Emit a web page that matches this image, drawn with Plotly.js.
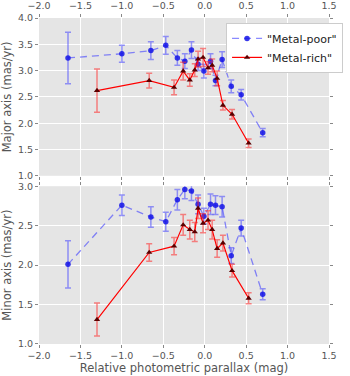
<!DOCTYPE html>
<html>
<head>
<meta charset="utf-8">
<script src="https://cdn.plot.ly/plotly-3.0.1.min.js"></script>
<style>
  body { margin: 0; background: #fff; }
  #chart { width: 350px; height: 376px; }
</style>
</head>
<body>
<div id="chart"></div>
<script>
// Metal-poor sample (blue, dashed)
const poorX = [-1.65, -1.0, -0.65, -0.47, -0.33, -0.24, -0.16, -0.08, -0.01, 0.07, 0.13, 0.21, 0.32, 0.44, 0.70];
const poorMajor = [3.24, 3.32, 3.38, 3.48, 3.24, 3.18, 3.39, 3.12, 2.99, 3.18, 2.81, 3.21, 2.70, 2.54, 1.82];
const poorMajorErr = [0.49, 0.16, 0.17, 0.17, 0.14, 0.14, 0.16, 0.12, 0.13, 0.14, 0.10, 0.15, 0.12, 0.10, 0.08];
const poorMinor = [2.01, 2.76, 2.61, 2.55, 2.83, 2.96, 2.94, 2.77, 2.62, 2.77, 2.76, 2.74, 2.12, 2.47, 1.63];
const poorMinorErr = [0.30, 0.13, 0.13, 0.12, 0.13, 0.12, 0.12, 0.12, 0.10, 0.13, 0.12, 0.13, 0.10, 0.10, 0.07];

// Metal-rich sample (red, solid)
const richX = [-1.30, -0.67, -0.37, -0.26, -0.18, -0.12, -0.08, -0.02, 0.04, 0.09, 0.15, 0.22, 0.33, 0.53];
const richMajor = [2.62, 2.81, 2.68, 2.99, 2.82, 3.01, 3.22, 3.25, 3.05, 3.10, 2.85, 2.34, 2.17, 1.62];
const richMajorErr = [0.41, 0.14, 0.14, 0.17, 0.12, 0.12, 0.15, 0.17, 0.12, 0.12, 0.14, 0.09, 0.09, 0.08];
const richMinor = [1.31, 2.16, 2.24, 2.51, 2.45, 2.42, 2.72, 2.53, 2.57, 2.45, 2.21, 2.28, 1.93, 1.58];
const richMinorErr = [0.21, 0.11, 0.11, 0.13, 0.12, 0.12, 0.13, 0.12, 0.12, 0.12, 0.11, 0.10, 0.08, 0.07];

const poorStyle = {
    mode: 'lines+markers',
    line: { color: 'rgba(60,60,255,0.6)', width: 1.3, dash: '7px,5px' },
    marker: { color: 'rgba(20,20,230,0.85)', size: 5.5, symbol: 'circle' }
};
const richStyle = {
    mode: 'lines+markers',
    line: { color: '#ff0000', width: 1.2 },
    marker: { color: '#5a0000', size: 5.5, symbol: 'triangle-up' }
};

function errBar(arr, color) {
    return { type: 'data', array: arr, visible: true, color: color, thickness: 1.5, width: 3 };
}

const traces = [
    Object.assign({
        x: poorX, y: poorMajor, name: '"Metal-poor"', xaxis: 'x', yaxis: 'y',
        error_y: errBar(poorMajorErr, 'rgba(70,70,255,0.55)')
    }, poorStyle),
    Object.assign({
        x: richX, y: richMajor, name: '"Metal-rich"', xaxis: 'x', yaxis: 'y',
        error_y: errBar(richMajorErr, 'rgba(255,40,40,0.55)')
    }, richStyle),
    Object.assign({
        x: poorX, y: poorMinor, name: '"Metal-poor"', xaxis: 'x2', yaxis: 'y2', showlegend: false,
        error_y: errBar(poorMinorErr, 'rgba(70,70,255,0.55)')
    }, poorStyle),
    Object.assign({
        x: richX, y: richMinor, name: '"Metal-rich"', xaxis: 'x2', yaxis: 'y2', showlegend: false,
        error_y: errBar(richMinorErr, 'rgba(255,40,40,0.55)')
    }, richStyle)
];

const tickFont = { family: 'DejaVu Sans', size: 9.5, color: '#555' };
const titleFont = { family: 'DejaVu Sans', size: 11.5, color: '#555' };

const axisBase = {
    showgrid: true,
    gridcolor: '#ffffff',
    gridwidth: 1,
    zeroline: false,
    showline: false,
    ticks: 'outside',
    ticklen: 3,
    tickcolor: '#888',
    mirror: 'ticks',
    tickfont: tickFont,
    tickformat: '.1f'
};

const layout = {
    width: 350,
    height: 376,
    margin: { l: 39, r: 7, t: 18, b: 32 },
    paper_bgcolor: '#ffffff',
    plot_bgcolor: '#e5e5e5',
    font: { family: 'DejaVu Sans', color: '#555' },
    xaxis: Object.assign({}, axisBase, {
        range: [-2, 1.5], dtick: 0.5, side: 'top', anchor: 'y', ticklabelstandoff: 1
    }),
    yaxis: Object.assign({}, axisBase, {
        range: [1, 4], dtick: 0.5, domain: [0.516, 1], anchor: 'x',
        title: { text: 'Major axis (mas/yr)', font: titleFont, standoff: 5 }
    }),
    xaxis2: Object.assign({}, axisBase, {
        range: [-2, 1.5], dtick: 0.5, anchor: 'y2',
        title: { text: 'Relative photometric parallax (mag)', font: titleFont, standoff: 3 }
    }),
    yaxis2: Object.assign({}, axisBase, {
        range: [1, 3], dtick: 0.5, domain: [0, 0.484], anchor: 'x2',
        title: { text: 'Minor axis (mas/yr)', font: titleFont, standoff: 5 }
    }),
    showlegend: true,
    legend: {
        x: 0.645, y: 0.985, xanchor: 'left', yanchor: 'top',
        bgcolor: '#ffffff', bordercolor: '#cccccc', borderwidth: 1,
        font: { family: 'DejaVu Sans', size: 11, color: '#222' },
        tracegroupgap: 0
    }
};

Plotly.newPlot('chart', traces, layout, { displayModeBar: false, staticPlot: true });
</script>
</body>
</html>
